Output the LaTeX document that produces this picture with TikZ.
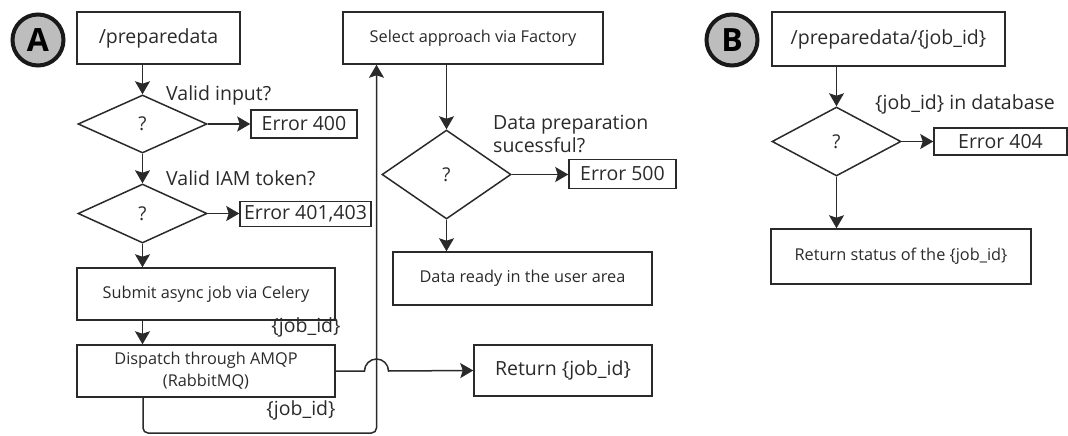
\documentclass[tikz,border=0pt]{standalone}
\usepackage{fontspec}
\setmainfont{Open Sans}
\usetikzlibrary{shapes.geometric,arrows.meta}
\definecolor{ln}{HTML}{2A2A2A}
\definecolor{circfill}{HTML}{BDBDBD}
\tikzset{
  box/.style={draw=ln, line width=1.5pt, rectangle, inner sep=0pt, align=center, text=ln},
  dia/.style={draw=ln, line width=1.5pt, diamond, inner sep=0pt, text=ln, font=\fontsize{19}{22}\selectfont},
  lbl/.style={inner sep=0pt, text=ln, align=left},
  arr/.style={draw=ln, line width=1.5pt, -{Stealth[length=13pt,width=15pt,inset=2.5pt]}},
  badge/.style={circle, draw=black!90, fill=circfill, line width=4pt, minimum size=51pt, inner sep=0pt, font=\fontsize{32}{32}\selectfont\bfseries},
  big/.style={font=\fontsize{19.5}{23}\selectfont},
  small/.style={font=\fontsize{16.3}{22}\selectfont},
}
\begin{document}
\begin{tikzpicture}[x=1pt,y=-1pt]
\useasboundingbox (0,0) rectangle (1068,436);
% ---- A ----
\node[badge] (cA) at (38,40) {A};
\node[box,big,minimum width=163pt,minimum height=52pt] (pd) at (158.5,38) {/preparedata};
\node[dia,minimum width=129pt,minimum height=58pt] (d1) at (142.5,124) {?};
\node[lbl,big,anchor=west] (t1) at (166,95) {Valid input?};
\node[box,big,minimum width=106pt,minimum height=28pt] (e400) at (304,124) {Error 400};
\node[dia,minimum width=129pt,minimum height=59pt] (d2) at (142.5,213.5) {?};
\node[lbl,big,anchor=west] (t2) at (166,178) {Valid IAM token?};
\node[box,big,minimum width=131pt,minimum height=25pt] (e401) at (305.5,214) {Error 401,403};
\node[box,small,minimum width=258pt,minimum height=52pt] (submit) at (206,294) {Submit async job via Celery};
\node[lbl,big] (jid1) at (306,327) {\{job\_id\}};
\node[box,small,minimum width=258pt,minimum height=52pt] (disp) at (206,371) {Dispatch through AMQP\\(RabbitMQ)};
\node[lbl,big] (jid2) at (301,410) {\{job\_id\}};
\node[box,small,minimum width=260pt,minimum height=52pt] (select) at (473,38) {Select approach via Factory};
\node[dia,minimum width=129pt,minimum height=89pt] (d3) at (446.5,174.5) {?};
\node[lbl,big,anchor=west] (t3) at (493,133.5) {Data preparation\\sucessful?};
\node[box,big,minimum width=107pt,minimum height=29pt] (e500) at (622.5,174) {Error 500};
\node[box,small,minimum width=259pt,minimum height=53pt] (ready) at (522.5,278.5) {Data ready in the user area};
\node[box,big,minimum width=178pt,minimum height=51pt] (ret) at (563,370.5) {Return \{job\_id\}};
\coordinate (loopL) at (143,433);
\coordinate (loopR) at (376.5,433);
\coordinate (hop) at (376.5,371);
% connectors A
\draw[arr] (d1.north |- pd.south) -- (d1.north);
\draw[arr] (d1.east) -- (d1.east -| e400.west);
\draw[arr] (d1.south) -- (d2.north);
\draw[arr] (d2.east) -- (d2.east -| e401.west);
\draw[arr] (d2.south) -- (d2.south |- submit.north);
\draw[arr] (d2.south |- submit.south) -- (d2.south |- disp.north);
\draw[arr, rounded corners=5pt] (disp.south -| loopL) -- (loopL) -- (loopR) -- (loopR |- select.south);
\draw[arr] (disp.east) -- ([xshift=-12pt]hop) arc[start angle=180,end angle=0,radius=12pt] -- (ret.west);
\draw[arr] (d3.north |- select.south) -- (d3.north);
\draw[arr] (d3.east) -- (d3.east -| e500.west);
\draw[arr] (d3.south) -- (d3.south |- ready.north);
% ---- B ----
\node[badge] (cB) at (732,40) {B};
\node[box,big,minimum width=233pt,minimum height=54pt] (pdj) at (888.5,39) {/preparedata/\{job\_id\}};
\node[dia,minimum width=129pt,minimum height=69pt] (d4) at (836.5,141.5) {?};
\node[lbl,big,anchor=west] (t4) at (875,104) {\{job\_id\} in database};
\node[box,big,minimum width=133pt,minimum height=27pt] (e404) at (1000.5,141.5) {Error 404};
\node[box,small,minimum width=260pt,minimum height=55pt] (status) at (901,256.5) {Return status of the \{job\_id\}};
\draw[arr] (d4.north |- pdj.south) -- (d4.north);
\draw[arr] (d4.east) -- (d4.east -| e404.west);
\draw[arr] (d4.south) -- (d4.south |- status.north);
\end{tikzpicture}
\end{document}
